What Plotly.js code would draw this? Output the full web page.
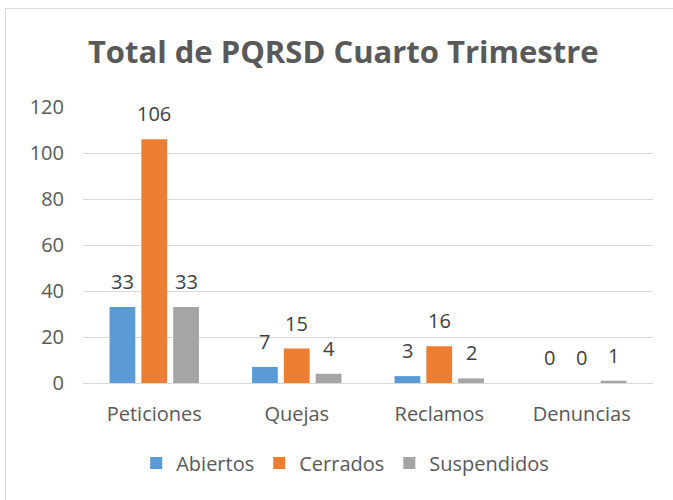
<!DOCTYPE html>
<html>
<head>
<meta charset="utf-8">
<script src="https://cdn.plot.ly/plotly-3.0.1.min.js"></script>
<style>
  html, body { margin: 0; padding: 0; background: #fff; }
  #wrap { position: relative; width: 673px; height: 500px; overflow: hidden; }
  #frame { position: absolute; left: 5px; top: 8px; width: 700px; height: 520px; border: 1px solid #d9d9d9; box-sizing: border-box; pointer-events: none; }
  #chart { position: absolute; left: 0; top: 0; width: 673px; height: 500px; }
</style>
</head>
<body>
<div id="wrap">
  <div id="chart"></div>
  <div id="frame"></div>
</div>
<script>
const categories = ["Peticiones", "Quejas", "Reclamos", "Denuncias"];
const abiertos = [33, 7, 3, 0];
const cerrados = [106, 15, 16, 0];
const suspendidos = [33, 4, 2, 1];
const seriesNames = ["Abiertos", "Cerrados", "Suspendidos"];
const colors = ["#5b9bd5", "#ed7d31", "#a5a5a5"];
const yTicks = [0, 20, 40, 60, 80, 100, 120];

const fontFam = "Open Sans, Liberation Sans, sans-serif";
const bargap = 0.33;
const allSeries = [abiertos, cerrados, suspendidos];

const data = allSeries.map((vals, i) => ({
  type: "bar",
  name: seriesNames[i],
  x: categories,
  y: vals,
  marker: { color: colors[i] },
  hoverinfo: "none"
}));

// value labels placed above each bar (category index + group offset)
const slot = (1 - bargap) / allSeries.length;
const annotations = [];
allSeries.forEach((vals, i) => {
  vals.forEach((v, j) => {
    annotations.push({
      x: j + (i - 1) * slot,
      y: v,
      xref: "x", yref: "y",
      text: String(v),
      showarrow: false,
      yanchor: "bottom",
      yshift: 10,
      font: { size: 20, color: "#404040", family: fontFam }
    });
  });
});

const layout = {
  width: 673,
  height: 500,
  margin: { l: 83, r: 20, t: 107, b: 117 },
  paper_bgcolor: "#ffffff",
  plot_bgcolor: "#ffffff",
  title: {
    text: "<b>Total de PQRSD Cuarto Trimestre</b>",
    font: { size: 31, color: "#595959", family: fontFam },
    x: 0.51, xanchor: "center",
    y: 0.895, yanchor: "middle"
  },
  barmode: "group",
  bargap: bargap,
  bargroupgap: 0.19,
  xaxis: {
    tickfont: { size: 20, color: "#595959", family: fontFam },
    showline: true, linecolor: "#d9d9d9", linewidth: 1,
    ticks: "", showgrid: false,
    ticklabelstandoff: 13
  },
  yaxis: {
    range: [0, 120],
    tickvals: yTicks,
    tickfont: { size: 20, color: "#595959", family: fontFam },
    gridcolor: "#d9d9d9",
    showline: false,
    zeroline: false,
    ticks: "",
    ticklabelstandoff: 18
  },
  annotations: annotations,
  showlegend: true,
  legend: {
    orientation: "h",
    x: 0.46, xanchor: "center",
    y: -0.29, yanchor: "middle",
    font: { size: 20, color: "#595959", family: fontFam },
    itemwidth: 30,
    traceorder: "normal"
  }
};

Plotly.newPlot("chart", data, layout, { displayModeBar: false, staticPlot: true });
</script>
</body>
</html>
